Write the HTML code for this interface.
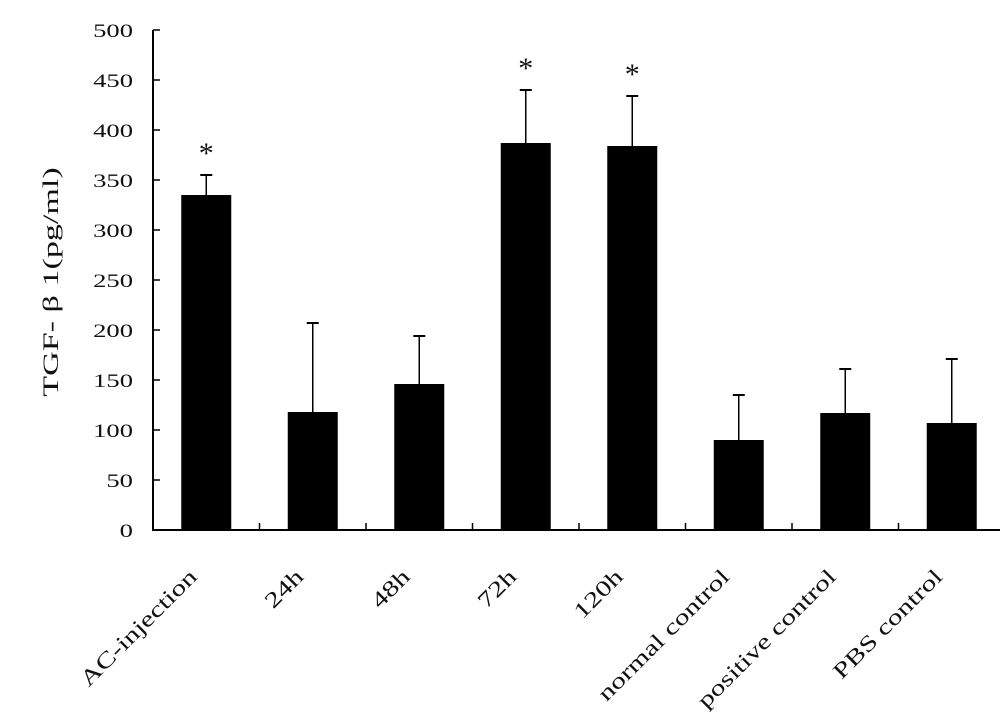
<!DOCTYPE html>
<html><head><meta charset="utf-8"><style>
body{margin:0;background:#fff}
svg{display:block}
text{font-family:"Liberation Serif",serif;fill:#111}
</style></head><body>
<svg id="chart" width="1000" height="724"></svg>
<script>
const categories=["AC-injection","24h","48h","72h","120h","normal control","positive control","PBS control"];
const values=[335,118,146,387,384,90,117,107];
const errors=[20,89,48,53,50,45,44,64];
const significant=[true,false,false,true,true,false,false,false];
const yTicks=[0,50,100,150,200,250,300,350,400,450,500];
const NS="http://www.w3.org/2000/svg";
const svg=document.getElementById('chart');
const x0=153,y0=530,yTop=30,step=106.5,bw=50;
const y=v=>y0-(v/500)*(y0-yTop);
const xc=i=>x0+step*(i+0.5);
function mk(t,a,p){const e=document.createElementNS(NS,t);for(const k in a)e.setAttribute(k,a[k]);(p||svg).appendChild(e);return e;}
function stretch(el,k){const L=el.getComputedTextLength();el.setAttribute('textLength',L*k);el.setAttribute('lengthAdjust','spacingAndGlyphs');}
let e;
e=mk('line',{x1:x0,y1:yTop,x2:x0,y2:y0+1,stroke:'#000','stroke-width':2});


e=mk('line',{x1:x0,y1:y0,x2:1000,y2:y0,stroke:'#000','stroke-width':2});


yTicks.forEach(t=>{
 e=mk('line',{x1:x0,y1:y(t),x2:x0+7,y2:y(t),stroke:'#000','stroke-width':1.5});
 
 
 e=mk('text',{x:133,y:y(t)+7,'text-anchor':'end','font-size':19});
 e.textContent=t;
 
 
 stretch(e,1.4);
});
for(let i=1;i<categories.length;i++){
 e=mk('line',{x1:x0+step*i,y1:y0,x2:x0+step*i,y2:y0-7,stroke:'#000','stroke-width':1.5});
 
 
}
categories.forEach((c,i)=>{
 const cx=xc(i);
 e=mk('line',{x1:cx,y1:y(values[i]),x2:cx,y2:y(values[i]+errors[i]),stroke:'#000','stroke-width':1.5});
 
 
 e=mk('line',{x1:cx-6,y1:y(values[i]+errors[i]),x2:cx+6,y2:y(values[i]+errors[i]),stroke:'#000','stroke-width':2});
 
 
 e=mk('rect',{x:cx-bw/2,y:y(values[i]),width:bw,height:y0-y(values[i]),fill:'#000'});
 
 
 if(significant[i]){
  e=mk('text',{x:cx,y:y(values[i]+errors[i])-12,'text-anchor':'middle','font-size':30});
  e.textContent='*';
  
  
 }
 e=mk('text',{x:0,y:0,'text-anchor':'end','font-size':22,transform:`translate(${cx-8},${578}) rotate(-45)`});
 e.textContent=c;
 
 
 stretch(e,1.35);
});
e=mk('text',{x:0,y:0,'text-anchor':'middle','font-size':22,transform:'translate(58,282) rotate(-90)'});
e.textContent='TGF- β 1(pg/ml)';


stretch(e,1.55);
</script>
</body></html>
